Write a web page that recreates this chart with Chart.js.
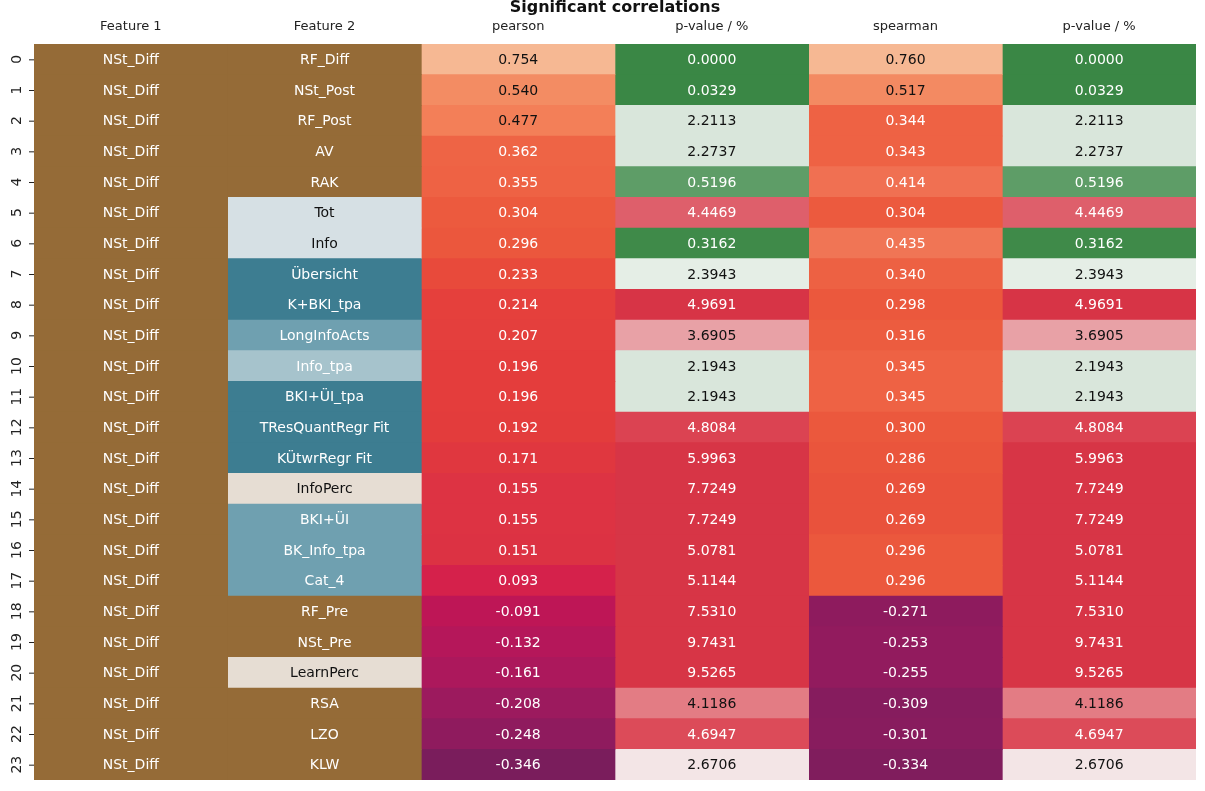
<!DOCTYPE html>
<html><head><meta charset="utf-8">
<script src="https://cdn.jsdelivr.net/npm/chart.js@4.4.0/dist/chart.umd.min.js"></script>
<style>body{margin:0;background:#fff}</style></head>
<body><canvas id="c" width="1205" height="791"></canvas>
<script>
const headers=["Feature 1","Feature 2","pearson","p-value / %","spearman","p-value / %"];
const rows=[...Array(24).keys()].map(String);
const feature1=Array(24).fill("NSt_Diff");
const feature2=["RF_Diff","NSt_Post","RF_Post","AV","RAK","Tot","Info","Übersicht","K+BKI_tpa","LongInfoActs","Info_tpa","BKI+ÜI_tpa","TResQuantRegr Fit","KÜtwrRegr Fit","InfoPerc","BKI+ÜI","BK_Info_tpa","Cat_4","RF_Pre","NSt_Pre","LearnPerc","RSA","LZO","KLW"];
const pearson=[0.754,0.540,0.477,0.362,0.355,0.304,0.296,0.233,0.214,0.207,0.196,0.196,0.192,0.171,0.155,0.155,0.151,0.093,-0.091,-0.132,-0.161,-0.208,-0.248,-0.346];
const pPearson=["0.0000","0.0329","2.2113","2.2737","0.5196","4.4469","0.3162","2.3943","4.9691","3.6905","2.1943","2.1943","4.8084","5.9963","7.7249","7.7249","5.0781","5.1144","7.5310","9.7431","9.5265","4.1186","4.6947","2.6706"];
const spearman=[0.760,0.517,0.344,0.343,0.414,0.304,0.435,0.340,0.298,0.316,0.345,0.345,0.300,0.286,0.269,0.269,0.296,0.296,-0.271,-0.253,-0.255,-0.309,-0.301,-0.334];
const pSpearman=pPearson.slice();
const brown="#956b37";
const f2col=[brown,brown,brown,brown,brown,"#d6e0e4","#d6e0e4","#3d7d91","#3d7d91","#6fa0b0","#a6c3cc","#3d7d91","#3d7d91","#3d7d91","#e6ddd3","#6fa0b0","#6fa0b0","#6fa0b0",brown,brown,"#e6ddd3",brown,brown,brown];
const f2dark=[5,6,14,20];
const pearCol=["#f6b893","#f38c63","#f37f58","#ee6445","#ee6244","#ec5a3e","#eb573d","#e84a3b","#e5403c","#e43f3d","#e43d3c","#e43d3c","#e33c3c","#e0373f","#dd3343","#dd3343","#dc3243","#d5214b","#be1656","#b5175a","#ac185c","#9c1a5e","#8f1b5e","#7a1d5c"];
const spCol=["#f6b893","#f38a62","#ee6244","#ee6244","#f07052","#ec5a3e","#f07555","#ed6143","#eb583d","#ec5c3f","#ee6244","#ee6244","#eb583d","#ea553c","#e9523c","#e9523c","#eb583d","#eb583d","#8e1b5e","#921b5e","#921b5e","#861c5e","#881c5e","#801d5d"];
const pCol=["#3a8745","#3a8745","#d9e6db","#d9e6db","#5e9d67","#de5f6b","#3f8a49","#e5eee6","#d73446","#e8a1a6","#d9e6db","#d9e6db","#db4352","#d73546","#d73546","#d73546","#d73546","#d73546","#d73546","#d73546","#d73546","#e37c84","#dc4b59","#f3e5e6"];
const pDark=[2,3,7,9,10,11,21,23];
const fmt=v=>v.toFixed(3);
const cols=[
 {bg:Array(24).fill(brown),txt:feature1,dark:[]},
 {bg:f2col,txt:feature2,dark:f2dark},
 {bg:pearCol,txt:pearson.map(fmt),dark:[0,1,2]},
 {bg:pCol,txt:pPearson,dark:pDark},
 {bg:spCol,txt:spearman.map(fmt),dark:[0,1]},
 {bg:pCol,txt:pSpearman,dark:pDark}];
const textPlugin={id:'txt',afterDatasetsDraw(ch){
 const c=ch.ctx,a=ch.chartArea;c.save();
 c.textAlign='center';c.textBaseline='middle';
 c.font='14px "DejaVu Sans"';
 ch.data.datasets.forEach((ds,di)=>{
  const meta=ch.getDatasetMeta(di);
  meta.data.forEach((b,i)=>{
   c.fillStyle=cols[di].dark.includes(i)?'#111':'#fff';
   c.fillText(cols[di].txt[i],(b.x+b.base)/2,b.y+1);
   if(di===0){
    c.fillStyle='#222';c.fillRect(a.left-5,b.y,5,1);
    c.save();c.translate(a.left-17,b.y);c.rotate(-Math.PI/2);
    c.fillText(rows[i],0,0);c.restore();
   }
  });
  const b=meta.data[0];
  c.fillStyle='#222';c.font='13px "DejaVu Sans"';
  c.fillText(headers[di],(b.x+b.base)/2,27);
  c.font='14px "DejaVu Sans"';
 });
 c.font='bold 16px "DejaVu Sans"';c.fillStyle='#111';
 c.fillText('Significant correlations',(a.left+a.right)/2,8);
 c.restore();
}};
new Chart(document.getElementById('c'),{
 type:'bar',
 data:{labels:rows,datasets:cols.map(cl=>({data:Array(24).fill(1),backgroundColor:cl.bg,borderWidth:0,barPercentage:1,categoryPercentage:1}))},
 options:{indexAxis:'y',responsive:false,animation:false,
  layout:{padding:{left:34,top:44,right:9,bottom:11}},
  plugins:{legend:{display:false},tooltip:{enabled:false}},
  scales:{x:{stacked:true,min:0,max:6,display:false},y:{stacked:true,display:false}}},
 plugins:[textPlugin]});
</script></body></html>
